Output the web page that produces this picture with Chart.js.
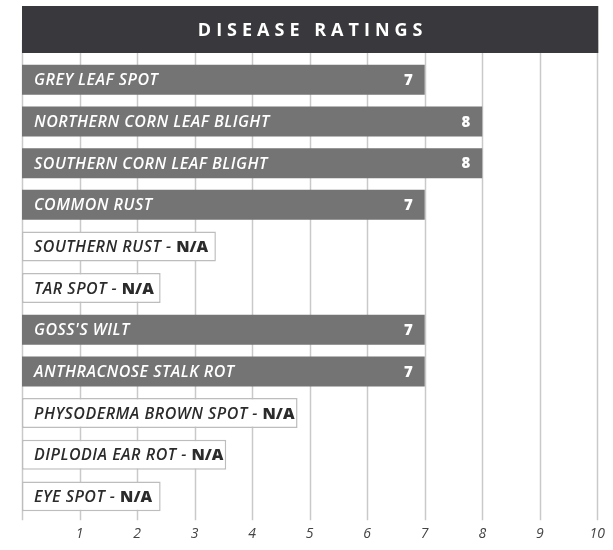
<!DOCTYPE html>
<html>
<head>
<meta charset="utf-8">
<script src="https://cdn.jsdelivr.net/npm/chart.js@4"></script>
<style>
  html, body { margin: 0; padding: 0; background: #fff; }
  #wrap { width: 613px; height: 550px; position: relative; }
</style>
</head>
<body>
<div id="wrap"><canvas id="ratingsChart" width="613" height="550"></canvas></div>
<script>
// Diseases, top to bottom
const diseases = [
    'GREY LEAF SPOT',
    'NORTHERN CORN LEAF BLIGHT',
    'SOUTHERN CORN LEAF BLIGHT',
    'COMMON RUST',
    'SOUTHERN RUST',
    'TAR SPOT',
    "GOSS'S WILT",
    'ANTHRACNOSE STALK ROT',
    'PHYSODERMA BROWN SPOT',
    'DIPLODIA EAR ROT',
    'EYE SPOT'
];
// Ratings (null = N/A)
const ratings = [7, 8, 8, 7, null, null, 7, 7, null, null, null];
// Length of the outlined N/A boxes in axis units
const naBarLengths = [null, null, null, null, 3.37, 2.41, null, null, 4.79, 3.55, 2.41];
const tickValues = [1, 2, 3, 4, 5, 6, 7, 8, 9, 10];
const chartTitle = 'DISEASE RATINGS';

const FONT = '"Open Sans", "DejaVu Sans", sans-serif';
const isNA = (i) => ratings[i] === null;

// Bar lengths: the rating, or the N/A box length
const barValues = diseases.map((d, i) => isNA(i) ? naBarLengths[i] : ratings[i]);

// Vertical grid lines + title band
const gridAndTitle = {
    id: 'gridAndTitle',
    beforeDatasetsDraw(chart) {
        const { ctx, chartArea, scales } = chart;
        ctx.save();
        ctx.strokeStyle = '#c9c9c9';
        ctx.lineWidth = 1.5;
        [0].concat(tickValues).forEach((v) => {
            const x = Math.round(scales.x.getPixelForValue(v)) + 0.5;
            ctx.beginPath();
            ctx.moveTo(x, 40);
            ctx.lineTo(x, chartArea.bottom + 3);
            ctx.stroke();
        });
        ctx.restore();
    },
    afterDraw(chart) {
        const { ctx, scales } = chart;
        const left = scales.x.getPixelForValue(0);
        const right = scales.x.getPixelForValue(10);
        ctx.save();
        ctx.fillStyle = '#39383c';
        ctx.fillRect(left, 6, right - left + 1, 47);
        ctx.fillStyle = '#ffffff';
        ctx.font = `700 18px ${FONT}`;
        ctx.letterSpacing = '5px';
        ctx.textAlign = 'center';
        ctx.textBaseline = 'middle';
        ctx.fillText(chartTitle, (left + right) / 2 + 3, 31);
        ctx.restore();
    }
};

// Names inside the bars and rating at the end
const barLabels = {
    id: 'barLabels',
    afterDatasetsDraw(chart) {
        const { ctx } = chart;
        const meta = chart.getDatasetMeta(0);
        ctx.save();
        ctx.textBaseline = 'middle';
        meta.data.forEach((bar, i) => {
            const y = bar.y + 1;
            const x0 = 34;
            ctx.textAlign = 'left';
            ctx.letterSpacing = '0.5px';
            ctx.font = `italic 600 16px ${FONT}`;
            if (isNA(i)) {
                ctx.fillStyle = '#2b2b2b';
                const txt = diseases[i] + ' - ';
                ctx.fillText(txt, x0, y);
                const w = ctx.measureText(txt).width;
                ctx.letterSpacing = '0px';
                ctx.font = `800 16px ${FONT}`;
                ctx.fillText('N/A', x0 + w, y);
            } else {
                ctx.fillStyle = '#ffffff';
                ctx.fillText(diseases[i], x0, y);
                ctx.letterSpacing = '0px';
                ctx.font = `800 15px ${FONT}`;
                ctx.textAlign = 'right';
                ctx.fillText(String(ratings[i]), bar.x - 12, y);
            }
        });
        ctx.restore();
    }
};

const ctx = document.getElementById('ratingsChart').getContext('2d');
new Chart(ctx, {
    type: 'bar',
    data: {
        labels: diseases,
        datasets: [{
            data: barValues,
            backgroundColor: diseases.map((d, i) => isNA(i) ? '#ffffff' : '#747474'),
            borderColor: diseases.map((d, i) => isNA(i) ? '#bdbdbd' : '#747474'),
            borderWidth: diseases.map((d, i) => isNA(i) ? 1.5 : 0),
            borderSkipped: false,
            barPercentage: 0.72,
            categoryPercentage: 1
        }]
    },
    options: {
        indexAxis: 'y',
        responsive: false,
        animation: false,
        layout: {
            padding: { top: 59, left: 22, right: 15, bottom: 0 }
        },
        plugins: {
            legend: { display: false },
            tooltip: { enabled: false }
        },
        scales: {
            x: {
                min: 0,
                max: 10,
                grid: { display: false, drawTicks: false },
                border: { display: false },
                afterBuildTicks: (axis) => {
                    axis.ticks = tickValues.map((v) => ({ value: v }));
                },
                ticks: {
                    color: '#444444',
                    padding: 8,
                    font: { family: FONT, size: 14, style: 'italic' }
                }
            },
            y: {
                display: false
            }
        }
    },
    plugins: [gridAndTitle, barLabels]
});
</script>
</body>
</html>
